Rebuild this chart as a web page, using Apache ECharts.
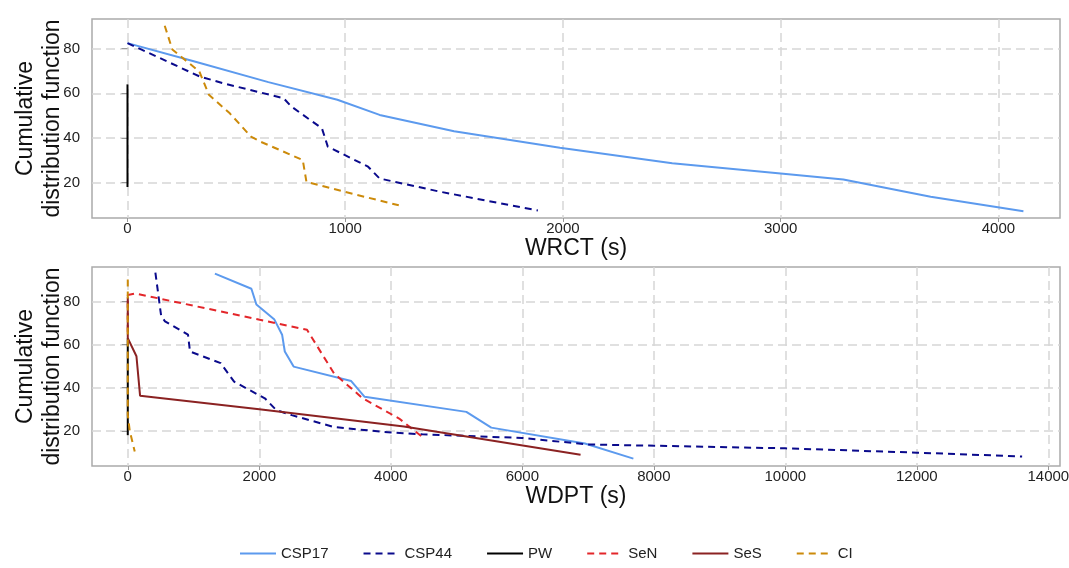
<!DOCTYPE html>
<html>
<head>
<meta charset="utf-8">
<script src="https://cdn.jsdelivr.net/npm/echarts@6/dist/echarts.min.js"></script>
<style>
  html, body { margin: 0; padding: 0; background: #fff; }
  #chart { width: 1069px; height: 568px; }
</style>
</head>
<body>
<div id="chart"></div>
<script>
// series names
var names = ['CSP17', 'CSP44', 'PW', 'SeN', 'SeS', 'CI'];
var colors = ['#5c9aee', '#0a0a8c', '#000000', '#e3262a', '#8b2222', '#cc8a0a'];
var dashed = [false, true, false, true, false, true];

// tick labels
var wrctTicks = [0, 1000, 2000, 3000, 4000];
var wdptTicks = [0, 2000, 4000, 6000, 8000, 10000, 12000, 14000];
var cdfTicks = [20, 40, 60, 80];

// WRCT panel: [seconds, cdf]
var wrctCSP17 = [[0, 82.5], [300, 74.5], [647, 65], [964, 57.1], [1158, 50.3], [1500, 43], [1986, 35.6],
  [2502, 28.6], [3000, 24.1], [3288, 21.4], [3689, 13.6], [4115, 7.1]];
var wrctCSP44 = [[0, 82.5], [330, 67.6], [435, 64.6], [717, 57.8], [752, 54.1], [893, 44.3], [920, 36.1],
  [1105, 27.1], [1158, 21.8], [1440, 15.8], [1885, 7.5]];
var wrctPW = [[0, 18], [0, 64]];
var wrctCI = [[171, 90.3], [206, 79.6], [330, 69.8], [374, 59.3], [470, 51], [567, 40.6], [611, 38.3],
  [805, 30.1], [822, 20.3], [999, 15.8], [1246, 9.8]];

// WDPT panel: [seconds, cdf]
var wdptCSP17 = [[1325, 92.9], [1880, 85.9], [1956, 78.6], [2230, 71.6], [2347, 64.6], [2388, 56.8],
  [2522, 49.8], [3398, 43.1], [3602, 35.8], [5149, 28.8], [5528, 21.5], [6952, 14.1], [7689, 7.1]];
var wdptCSP44 = [[420, 93.4], [508, 73.2], [566, 70.8], [916, 64.6], [946, 56.8], [1413, 51.4],
  [1617, 42.8], [2084, 35.1], [2259, 29.6], [2493, 27.3], [3135, 21.8], [3894, 19.5], [4478, 18.4],
  [5995, 16.7], [7000, 13.7], [10000, 11.9], [12000, 9.9], [13601, 8.1]];
var wdptPW = [[0, 18], [0, 63]];
var wdptSeN = [[0, 66], [0, 83], [120, 83.7], [2726, 66.9], [3135, 46.7], [3573, 35.1], [4127, 25.7], [4478, 17.2]];
var wdptSeS = [[0, 82], [0, 63], [132, 54.6], [187, 36.3], [2000, 30], [4200, 22], [6886, 8.9]];
var wdptCI = [[0, 90.2], [0, 27.4], [30, 20], [106, 10.4]];

var wrctPanel = { CSP17: wrctCSP17, CSP44: wrctCSP44, PW: wrctPW, CI: wrctCI };
var wdptPanel = { CSP17: wdptCSP17, CSP44: wdptCSP44, PW: wdptPW, SeN: wdptSeN, SeS: wdptSeS, CI: wdptCI };

var font = 'Liberation Sans, Arial, sans-serif';
var gridLine = { show: true, lineStyle: { color: '#d6d6d6', width: 1.5, type: [9, 5] } };

function xAxis(idx, min, max, ticks, name) {
  return {
    type: 'value', gridIndex: idx, min: min, max: max,
    name: name, nameLocation: 'middle', nameGap: 19, nameMoveOverlap: false,
    nameTextStyle: { fontFamily: font, fontSize: 23, color: '#111', verticalAlign: 'top' },
    axisLine: { show: false },
    axisTick: { show: true, length: 4, lineStyle: { color: '#999' }, customValues: ticks },
    axisLabel: { fontFamily: font, fontSize: 15, color: '#222', margin: 3, customValues: ticks,
      formatter: function (v) { return String(v); } },
    splitLine: gridLine
  };
}
function yAxis(idx, min, max) {
  return {
    type: 'value', gridIndex: idx, min: min, max: max,
    name: 'Cumulative\ndistribution function', nameLocation: 'middle', nameGap: 26, nameMoveOverlap: false,
    nameTextStyle: { fontFamily: font, fontSize: 23, color: '#111', lineHeight: 27 },
    axisLine: { show: false },
    axisTick: { show: true, length: 6, lineStyle: { color: '#999' }, customValues: cdfTicks },
    axisLabel: { fontFamily: font, fontSize: 15, color: '#222', margin: 12, customValues: cdfTicks },
    splitLine: gridLine
  };
}

var series = [];
names.forEach(function (n, i) {
  [wrctPanel, wdptPanel].forEach(function (panel, g) {
    if (!panel[n]) return;
    series.push({
      name: n, type: 'line', xAxisIndex: g, yAxisIndex: g,
      data: panel[n], showSymbol: false, symbol: 'none', silent: true,
      color: colors[i],
      lineStyle: { color: colors[i], width: 2, type: dashed[i] ? [7, 5] : 'solid' }
    });
  });
});

var myChart = echarts.init(document.getElementById('chart'));
var option = {
  backgroundColor: '#fff',
  animation: false,
  grid: [
    { left: 92, right: 9, top: 19, height: 199, show: true, borderColor: '#aaa', borderWidth: 1.5,
      outerBoundsMode: 'none' },
    { left: 92, right: 9, top: 267, height: 199, show: true, borderColor: '#aaa', borderWidth: 1.5,
      outerBoundsMode: 'none' }
  ],
  xAxis: [
    xAxis(0, -163, 4283, wrctTicks, 'WRCT (s)'),
    xAxis(1, -544, 14177, wdptTicks, 'WDPT (s)')
  ],
  yAxis: [yAxis(0, 4.1, 93.3), yAxis(1, 3.7, 96)],
  legend: {
    data: names, bottom: 2, left: 234, itemWidth: 36, itemHeight: 10, itemGap: 34,
    itemStyle: { opacity: 0 },
    textStyle: { fontFamily: font, fontSize: 15, color: '#222' }
  },
  series: series
};
myChart.setOption(option);
window.onresize = function () {
  myChart.resize();
};
</script>
</body>
</html>
